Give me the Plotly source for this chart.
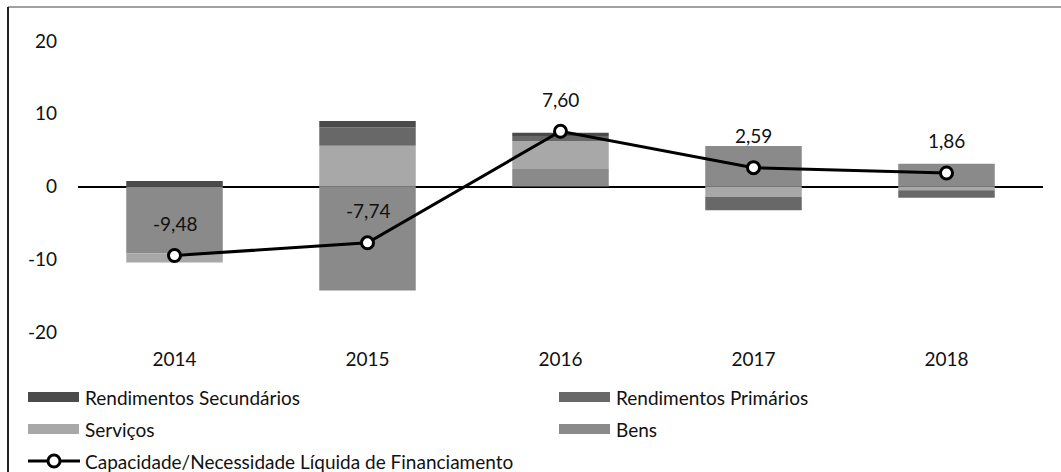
import plotly.graph_objects as go

# Data
years = ["2014", "2015", "2016", "2017", "2018"]
bens = [-9.2, -14.3, 2.4, 5.55, 3.13]
servicos = [-1.25, 5.6, 3.85, -1.45, -0.5]
rend_primarios = [0.0, 2.5, 0.7, -1.8, -1.04]
rend_secundarios = [0.75, 0.9, 0.45, 0.0, 0.0]
capacidade = [-9.48, -7.74, 7.60, 2.59, 1.86]
capacidade_labels = ["-9,48", "-7,74", "7,60", "2,59", "1,86"]
y_ticks = [-20, -10, 0, 10, 20]
y_ticktext = ["-20", "-10", "0", "10", "20"]

FONT = "Lato, 'Liberation Sans', Arial, sans-serif"
LINE_NAME = "Capacidade/Necessidade Líquida de Financiamento"

# figure geometry (pixels) used to place the hand-drawn legend
W, H = 1061, 472
ML, MR, MT, MB = 78, 18, 41, 140
PW, PH = W - ML - MR, H - MT - MB


def px(x):
    return (x - ML) / PW


def py(y):
    return (H - MB - y) / PH


# one slot per year on the x axis
xpos = list(range(len(years)))

fig = go.Figure()

# stacking order: Bens nearest the zero line, then Serviços, Primários, Secundários
bar_series = [
    ("Bens", bens, "#8a8a8a"),
    ("Serviços", servicos, "#a8a8a8"),
    ("Rendimentos Primários", rend_primarios, "#686868"),
    ("Rendimentos Secundários", rend_secundarios, "#4b4b4b"),
]
for name, vals, color in bar_series:
    fig.add_trace(go.Bar(
        x=xpos, y=vals, name=name,
        marker=dict(color=color, line=dict(width=0)),
    ))

fig.add_trace(go.Scatter(
    x=xpos, y=capacidade, name=LINE_NAME,
    mode="lines+markers",
    line=dict(color="black", width=3),
    marker=dict(size=12, color="white", line=dict(color="black", width=3)),
))

# data labels above the line points
for xi, val, lab in zip(xpos, capacidade, capacidade_labels):
    fig.add_annotation(x=xi, y=val, text=lab, showarrow=False, yshift=32,
                       font=dict(family=FONT, size=19, color="#111"))

# legend drawn like the Excel one: wide swatches, two columns, line entry last
colors = {name: color for name, _, color in bar_series}
legend_rows = [
    [("Rendimentos Secundários", 28), ("Rendimentos Primários", 559)],
    [("Serviços", 28), ("Bens", 559)],
]
row_y = [397, 429, 461]
for r, row in enumerate(legend_rows):
    for name, x0 in row:
        fig.add_shape(type="rect", xref="paper", yref="paper",
                      x0=px(x0), x1=px(x0 + 51), y0=py(row_y[r] - 5), y1=py(row_y[r] + 5),
                      fillcolor=colors[name], line=dict(width=0), layer="above")
        fig.add_annotation(xref="paper", yref="paper", x=px(x0 + 55), y=py(row_y[r]),
                           text=name, showarrow=False, xanchor="left", yanchor="middle",
                           font=dict(family=FONT, size=19, color="#111"))

fig.add_shape(type="line", xref="paper", yref="paper",
              x0=px(28), x1=px(80), y0=py(row_y[2]), y1=py(row_y[2]),
              line=dict(color="black", width=3))
fig.add_shape(type="circle", xref="paper", yref="paper",
              xsizemode="pixel", ysizemode="pixel",
              xanchor=px(54), yanchor=py(row_y[2]), x0=-6, x1=6, y0=-6, y1=6,
              fillcolor="white", line=dict(color="black", width=3))
fig.add_annotation(xref="paper", yref="paper", x=px(83), y=py(row_y[2]),
                   text=LINE_NAME, showarrow=False, xanchor="left", yanchor="middle",
                   font=dict(family=FONT, size=19, color="#111"))

# chart frame (left edge and top edge of the cropped chart area)
fig.add_shape(type="line", xref="paper", yref="paper",
              x0=px(8), x1=px(1061), y0=py(7), y1=py(7),
              line=dict(color="#a0a0a0", width=2))
fig.add_shape(type="line", xref="paper", yref="paper",
              x0=px(8), x1=px(8), y0=py(7), y1=py(472),
              line=dict(color="#222", width=2))

fig.update_layout(
    width=W, height=H,
    margin=dict(l=ML, r=MR, t=MT, b=MB),
    paper_bgcolor="white", plot_bgcolor="white",
    barmode="relative", bargap=0.5,
    font=dict(family=FONT, size=19, color="#111"),
    showlegend=False,
    xaxis=dict(range=[-0.5, len(years) - 0.5], tickvals=xpos, ticktext=years,
               showgrid=False, showline=False, zeroline=False, ticks="",
               ticklabelstandoff=14, automargin=False),
    yaxis=dict(range=[-20, 20], tickvals=y_ticks, ticktext=y_ticktext,
               showgrid=False, showline=False, ticks="",
               zeroline=True, zerolinecolor="black", zerolinewidth=2,
               ticklabelstandoff=20, automargin=False),
)

# drop the browser's default body margin so the figure sits at the page corner
fig.write_html("out.html", config={"displayModeBar": False},
               post_script="document.body.style.margin='0';")
